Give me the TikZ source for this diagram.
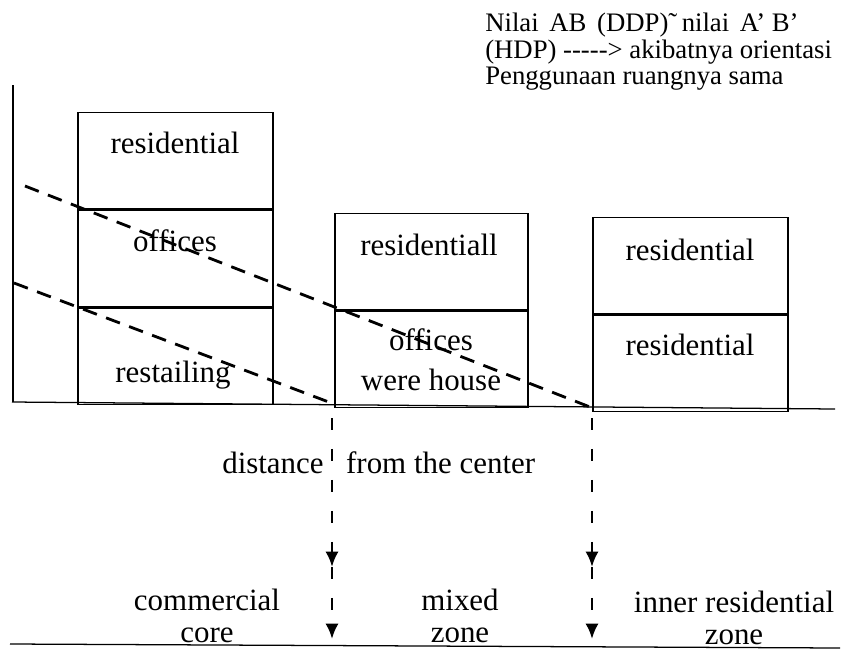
\documentclass[tikz,border=0pt]{standalone}
\usepackage{fontspec}
\setmainfont{Liberation Serif}
\usetikzlibrary{arrows,arrows.meta,positioning}

\begin{document}
\begin{tikzpicture}[x=0.025cm,y=-0.025cm,>={Latex[length=11pt,width=9.5pt]},
	floor/.style={draw,line width=0.9pt,minimum height=2.41cm,inner sep=0pt},
	lbl/.style={font=\fontsize{22}{23}\selectfont,align=center,inner sep=0pt},
	slope/.style={line width=2pt,dash pattern=on 10.5pt off 7pt},
	drop/.style={line width=2pt,dash pattern=on 8.5pt off 13.5pt}]
	\useasboundingbox (0,0) rectangle (846,651);

	\node[font=\fontsize{19}{18.9}\selectfont,align=left,anchor=north west,inner sep=0pt] (note) at (485,13)
		{Nilai\hspace{0.4em}AB\hspace{0.4em}(DDP)\symbol{"02DC}\,nilai\hspace{0.4em}A' B'\\(HDP) {-}{-}{-}{-}{-}> akibatnya orientasi\\Penggunaan ruangnya sama};

	\node[floor,minimum width=4.875cm,anchor=north] (B1a) at (175.5,112) {};
	\node[floor,minimum width=4.875cm,below=0pt of B1a] (B1b) {};
	\node[floor,minimum width=4.875cm,below=0pt of B1b] (B1c) {};
	\node[floor,minimum width=4.825cm,anchor=north] (B2a) at (431.5,213) {};
	\node[floor,minimum width=4.825cm,below=0pt of B2a] (B2b) {};
	\node[floor,minimum width=4.875cm,anchor=north] (B3a) at (690.5,217) {};
	\node[floor,minimum width=4.875cm,below=0pt of B3a] (B3b) {};

	\node[lbl] (t1) at (175,143) {residential};
	\node[lbl] (t2) at (175,241) {offices};
	\node[lbl] (t3) at (173,375) {restailing};
	\node[lbl] (t4) at (429,245) {residentiall};
	\node[lbl,font=\fontsize{22}{28.5}\selectfont] (t5) at (431,360) {offices\\were house};
	\node[lbl] (t6) at (690,250) {residential};
	\node[lbl] (t7) at (690,345) {residential};

	\draw[line width=0.9pt] (13,85) -- (13,402);
	\draw[line width=0.9pt] (12,402) -- (835,409);

	\draw[slope] (25,186) -- (590,407);
	\draw[slope] (14,283) -- (334,404);

	\node[lbl,anchor=west] (dist) at (222,463) {distance\hspace{16pt}from the center};

	\coordinate (A1) at (332,418);
	\coordinate (A2) at (332,567);
	\coordinate (A3) at (332,639);
	\coordinate (C1) at (592,418);
	\coordinate (C2) at (592,567);
	\coordinate (C3) at (592,639);
	\path [->,drop]
		(A1) edge (A2)
		(A2) edge (A3)
		(C1) edge (C2)
		(C2) edge (C3);

	\node[lbl] (z1) at (207,616) {commercial\\core};
	\node[lbl] (z2) at (460,616) {mixed\\zone};
	\node[lbl] (z3) at (734,618) {inner residential\\zone};

	\draw[line width=0.9pt] (10,644) -- (840,648);
\end{tikzpicture}
\end{document}
